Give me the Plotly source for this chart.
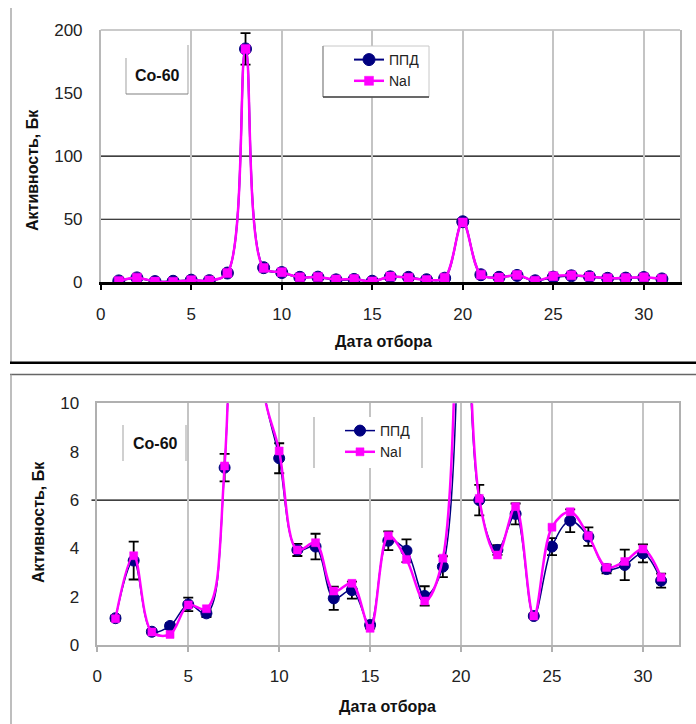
import plotly.graph_objects as go
from plotly.subplots import make_subplots

# ---- data ----
days = list(range(1, 32))
ppd = [1.12, 3.5, 0.56, 0.8, 1.69, 1.32, 7.34, 185, 11.6, 7.73, 3.94, 4.08, 1.94, 2.28, 0.84,
       4.32, 3.91, 2.04, 3.25, 48, 6.0, 3.94, 5.43, 1.21, 4.08, 5.15, 4.49, 3.15, 3.32, 3.8, 2.67]
nai = [1.1, 3.7, 0.55, 0.45, 1.67, 1.51, 7.41, 185, 11.3, 8.03, 3.94, 4.24, 2.24, 2.56, 0.70,
       4.53, 3.55, 1.83, 3.6, 47.5, 6.07, 3.73, 5.73, 1.21, 4.88, 5.52, 4.53, 3.22, 3.46, 3.98, 2.81]
ppd_err = [0.12, 0.78, 0.1, 0.12, 0.28, 0.15, 0.57, 12.5, 1.0, 0.62, 0.25, 0.53, 0.48, 0.35, 0.15,
           0.39, 0.47, 0.4, 0.43, 2.0, 0.63, 0.2, 0.43, 0.1, 0.35, 0.47, 0.38, 0.18, 0.63, 0.37, 0.29]

x_ticks = [0, 5, 10, 15, 20, 25, 30]
y_ticks_top = [0, 50, 100, 150, 200]
y_ticks_bottom = [0, 2, 4, 6, 8, 10]
ref_lines_top = [50, 100]
ref_lines_bottom = [6]

names = ["ППД", "NaI"]
label_isotope = "Co-60"
x_title = "Дата отбора"
y_title = "Активность, Бк"

W, H = 696, 724
NAVY = "#000080"
MAGENTA = "#FF00FF"
FONT = "Liberation Sans, Arial, sans-serif"


def px(x):
    return x / W


def py(y):
    return 1 - y / H


def pline(x0, y0, x1, y1, color, width=1.0, layer="above"):
    return dict(type="line", xref="paper", yref="paper", x0=px(x0), x1=px(x1), y0=py(y0), y1=py(y1),
                line=dict(color=color, width=width), layer=layer)


fig = make_subplots(rows=2, cols=1)

panels = [
    dict(row=1, legend="legend", msize=(12, 9), lw=(2, 2.5), err_w=5),
    dict(row=2, legend="legend2", msize=(11, 8), lw=(1.5, 2.5), err_w=5),
]
for p in panels:
    fig.add_trace(go.Scatter(
        x=days, y=ppd, name=names[0], mode="lines+markers",
        line=dict(color=NAVY, width=p["lw"][0], shape="spline", smoothing=1),
        marker=dict(symbol="circle", size=p["msize"][0], color=NAVY, line=dict(color=NAVY, width=1)),
        error_y=dict(type="data", array=ppd_err, visible=True, color="black", thickness=1.8, width=p["err_w"]),
        legend=p["legend"], legendgroup="a" + p["legend"],
    ), row=p["row"], col=1)
    fig.add_trace(go.Scatter(
        x=days, y=nai, name=names[1], mode="lines+markers",
        line=dict(color=MAGENTA, width=p["lw"][1], shape="spline", smoothing=1),
        marker=dict(symbol="square", size=p["msize"][1], color=MAGENTA, line=dict(color=MAGENTA, width=0.5)),
        legend=p["legend"], legendgroup="b" + p["legend"],
    ), row=p["row"], col=1)

tickfont = dict(family=FONT, size=17, color="#222222")

# top panel axes
fig.update_xaxes(row=1, col=1, domain=[px(100.7), px(680)], range=[0, 32], tickvals=x_ticks,
                 showgrid=True, gridcolor="#c4c4c4", gridwidth=1.5, zeroline=False,
                 showline=True, linecolor="black", linewidth=2.5,
                 ticks="outside", ticklen=5, tickwidth=2, tickcolor="black",
                 tickfont=tickfont, ticklabelstandoff=10, automargin=False)
fig.update_yaxes(row=1, col=1, domain=[py(282.3), py(30)], range=[0, 200], tickvals=y_ticks_top,
                 showgrid=False, zeroline=False, showline=True, linecolor="#b8b8b8", linewidth=1.5,
                 mirror=True, ticks="", tickfont=tickfont, ticklabelstandoff=13, automargin=False)
# bottom panel axes
fig.update_xaxes(row=2, col=1, domain=[px(97.3), px(679.3)], range=[0, 32], tickvals=x_ticks,
                 showgrid=True, gridcolor="#c4c4c4", gridwidth=1.5, zeroline=False,
                 showline=True, linecolor="#b0b0b0", linewidth=1.5, mirror=True,
                 ticks="outside", ticklen=5, tickwidth=1.5, tickcolor="#b0b0b0",
                 tickfont=tickfont, ticklabelstandoff=10, automargin=False)
fig.update_yaxes(row=2, col=1, domain=[py(645.3), py(403.3)], range=[0, 10], tickvals=y_ticks_bottom,
                 showgrid=False, zeroline=False, showline=True, linecolor="#b0b0b0", linewidth=1.5,
                 mirror=True, ticks="", tickfont=tickfont, ticklabelstandoff=13, automargin=False)

shapes = []
# top border of top plot area (gray)
shapes.append(dict(type="line", xref="x domain", yref="y domain", x0=0, x1=1, y0=1, y1=1,
                   line=dict(color="#b8b8b8", width=1.5), layer="below"))
for v in ref_lines_top:
    shapes.append(dict(type="line", xref="x domain", yref="y", x0=0, x1=1, y0=v, y1=v,
                       line=dict(color="black", width=1.2), layer="below"))
for v in ref_lines_bottom:
    shapes.append(dict(type="line", xref="x2 domain", yref="y2", x0=-0.01, x1=1, y0=v, y1=v,
                       line=dict(color="black", width=1.2), layer="below"))
# panel frames
shapes += [
    pline(11, 8, 11, 362.7, "#a8a8a8", 1.5),
    pline(10, 362.7, 696, 362.7, "black", 2.5),
    pline(10, 374.5, 696, 374.5, "#666666", 1.5),
    pline(11, 374.5, 11, 724, "#a8a8a8", 1.5),
]
# legend boxes (decorative frames)
shapes += [
    dict(type="rect", xref="paper", yref="paper", x0=px(323), x1=px(429), y0=py(97), y1=py(46),
         line=dict(color="#c8c8c8", width=1), fillcolor="white", layer="above"),
    pline(323, 46, 323, 97, "#909090", 1.2),
    pline(323, 97, 429, 97, "#404040", 1.5),
    dict(type="rect", xref="paper", yref="paper", x0=px(314), x1=px(422), y0=py(468), y1=py(417),
         line=dict(width=0), fillcolor="white", layer="above"),
    pline(314, 417, 314, 468, "#b8b8b8", 1.5),
    pline(422, 417, 422, 468, "#b8b8b8", 1.5),
]
# Co-60 label frames
shapes += [
    dict(type="rect", xref="paper", yref="paper", x0=px(126), x1=px(188), y0=py(94), y1=py(58),
         line=dict(width=0), fillcolor="white", layer="above"),
    pline(126, 58, 126, 94, "#b0b0b0", 1.2),
    pline(188, 45, 188, 94, "#b0b0b0", 1.2),
    pline(126, 94, 188, 94, "#808080", 1.2),
    dict(type="rect", xref="paper", yref="paper", x0=px(123), x1=px(186), y0=py(461), y1=py(425),
         line=dict(width=0), fillcolor="white", layer="above"),
    pline(123, 425, 123, 461, "#c0c0c0", 1.5),
    pline(186, 425, 186, 461, "#c0c0c0", 1.5),
]

annotations = []
for (cx, cy) in [(32, 170), (38, 522)]:
    annotations.append(dict(text=y_title, x=px(cx), y=py(cy), xref="paper", yref="paper",
                            xanchor="center", yanchor="middle",
                            textangle=-90, showarrow=False,
                            font=dict(family=FONT, size=16, color="#111111", weight="bold")))
for (cx, cy) in [(383, 342), (387, 706)]:
    annotations.append(dict(text=x_title, x=px(cx), y=py(cy), xref="paper", yref="paper",
                            xanchor="center", yanchor="middle", showarrow=False,
                            font=dict(family=FONT, size=16, color="#111111", weight="bold")))
for (cx, cy) in [(157, 76), (155, 443)]:
    annotations.append(dict(text=label_isotope, x=px(cx), y=py(cy), xref="paper", yref="paper",
                            xanchor="center", yanchor="middle", showarrow=False,
                            font=dict(family=FONT, size=16, color="#111111", weight="bold")))

legend_style = dict(xanchor="left", yanchor="top", bgcolor="rgba(0,0,0,0)",
                    borderwidth=0, font=dict(family=FONT, size=14, color="#222222"),
                    tracegroupgap=7, traceorder="normal")

fig.update_layout(
    width=W, height=H, margin=dict(l=0, r=0, t=0, b=0, pad=0, autoexpand=False),
    paper_bgcolor="white", plot_bgcolor="white",
    showlegend=True,
    legend=dict(x=px(349), y=py(44), **legend_style),
    legend2=dict(x=px(340), y=py(415), **legend_style),
    shapes=shapes, annotations=annotations,
)

fig.write_html("out.html")
